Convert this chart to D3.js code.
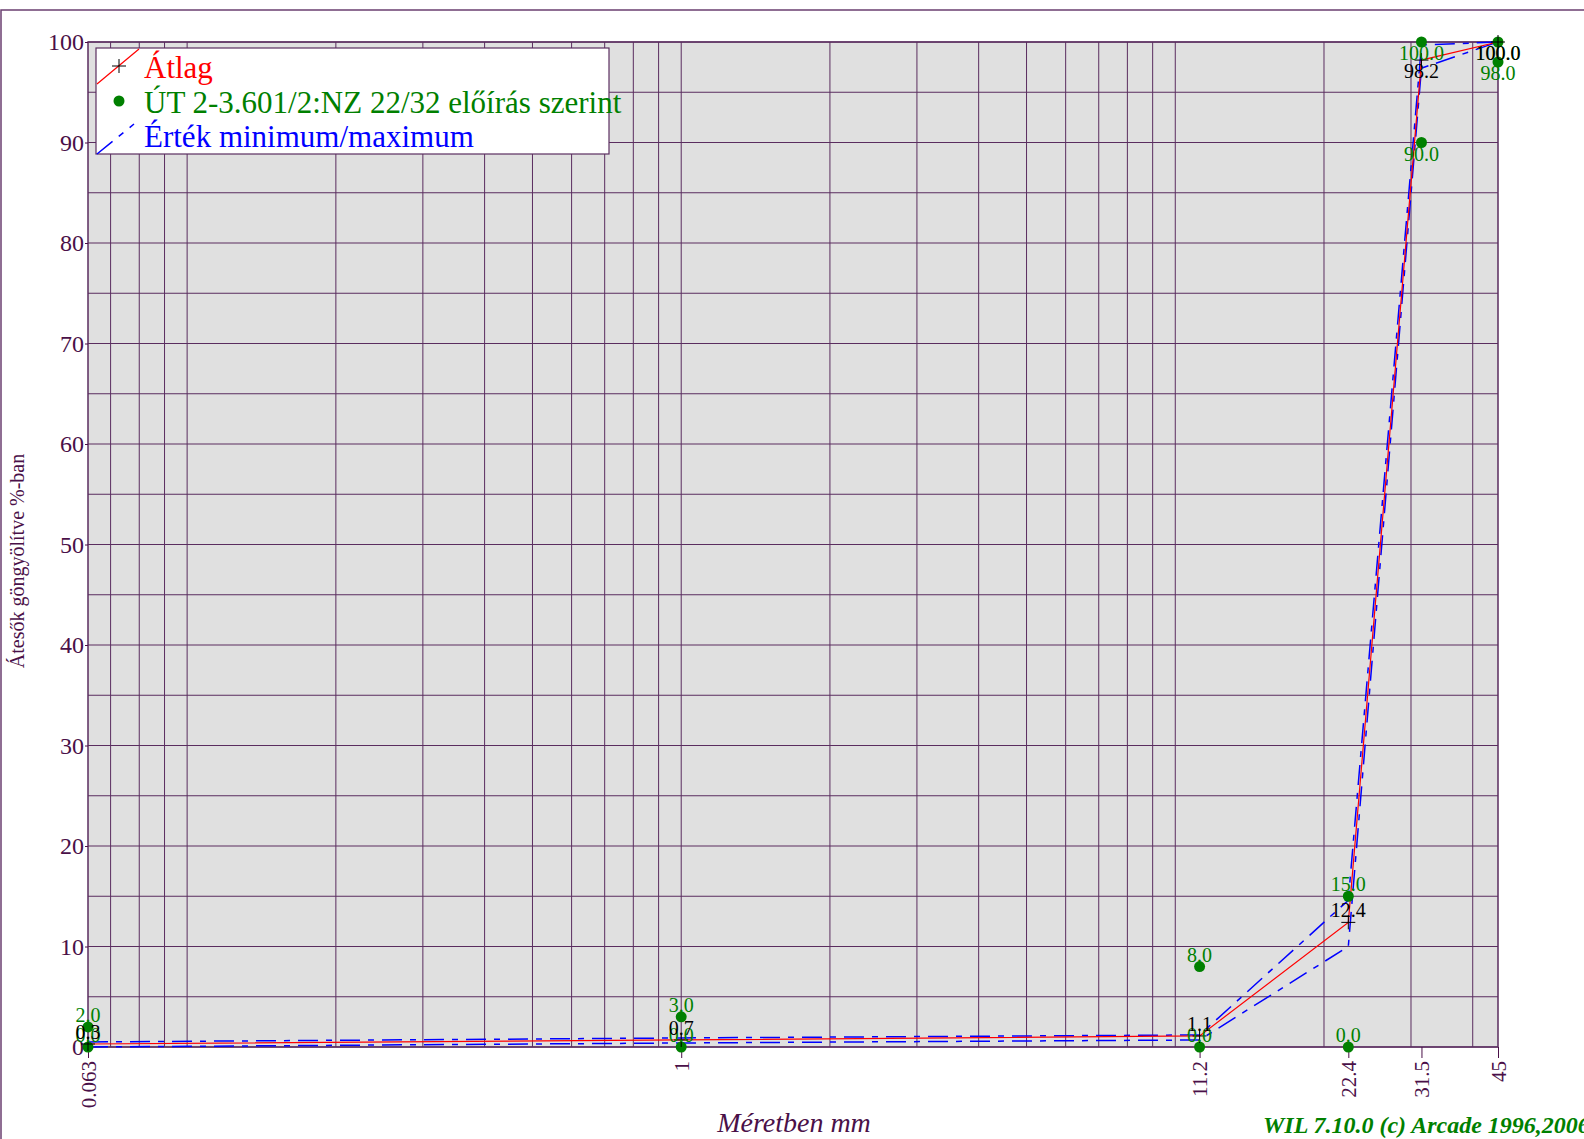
<!DOCTYPE html>
<html>
<head>
<meta charset="utf-8">
<script src="https://cdn.jsdelivr.net/npm/d3@7"></script>
<style>
  body { margin: 0; background: #fff; }
  svg { display: block; font-family: "Liberation Serif", "Times New Roman", serif; }
</style>
</head>
<body>
<div id="chart"></div>
<script>
// sieve sizes (mm) and the values
const sieveSizes = [0.063, 1, 11.2, 22.4, 31.5, 45];
const sieveLabels = ["0.063", "1", "11.2", "22.4", "31.5", "45"];
const averagePassing = [0.3, 0.7, 1.1, 12.4, 98.2, 100.0];
const minPassing = [0.0, 0.4, 0.7, 10.0, 97.4, 100.0];
const maxPassing = [0.5, 0.9, 1.2, 14.6, 99.7, 100.0];
const specLower = [0.0, 0.0, 0.0, 0.0, 90.0, 98.0];
const specUpper = [2.0, 3.0, 8.0, 15.0, 100.0, 100.0];
const yTickValues = [0, 10, 20, 30, 40, 50, 60, 70, 80, 90, 100];
const legendLabels = ["Átlag", "ÚT 2-3.601/2:NZ 22/32 előírás szerint", "Érték minimum/maximum"];

const W = 1584, H = 1139;
const margin = { top: 42, right: 86, bottom: 92, left: 88 };
const gridColor = "#5a2d5f";
const axisColor = "#4a1048";
const green = "#008000";
const fmt = d3.format(".1f");

const svg = d3.select("#chart").append("svg")
    .attr("width", W)
    .attr("height", H);

// outer frame
svg.append("rect")
    .attr("x", 1).attr("y", 10)
    .attr("width", W + 10).attr("height", H + 10)
    .attr("fill", "none")
    .attr("stroke", "#6b3f70")
    .attr("stroke-width", 1.5);

const x = d3.scaleLog()
    .domain([0.063, 45])
    .range([margin.left, W - margin.right]);
const y = d3.scaleLinear()
    .domain([0, 100])
    .range([H - margin.bottom, margin.top]);

// plot background
svg.append("rect")
    .attr("x", x.range()[0]).attr("y", y(100))
    .attr("width", x.range()[1] - x.range()[0])
    .attr("height", y(0) - y(100))
    .attr("fill", "#e0e0e0");

// grid
const grid = svg.append("g").attr("stroke", gridColor).attr("stroke-width", 1);
grid.selectAll(".vg")
    .data(x.ticks())
    .enter().append("line")
    .attr("x1", d => x(d)).attr("x2", d => x(d))
    .attr("y1", y(0)).attr("y2", y(100));
grid.selectAll(".hg")
    .data(y.ticks(20))
    .enter().append("line")
    .attr("x1", x.range()[0]).attr("x2", x.range()[1])
    .attr("y1", d => y(d)).attr("y2", d => y(d));
svg.append("rect")
    .attr("x", x.range()[0]).attr("y", y(100))
    .attr("width", x.range()[1] - x.range()[0])
    .attr("height", y(0) - y(100))
    .attr("fill", "none")
    .attr("stroke", gridColor)
    .attr("stroke-width", 1.5);

// X axis
const xAxis = svg.append("g")
    .attr("transform", "translate(0," + y(0) + ")")
    .call(d3.axisBottom(x)
        .tickValues(sieveSizes)
        .tickFormat((d, i) => sieveLabels[i])
        .tickSize(11)
        .tickPadding(0));
xAxis.select(".domain").remove();
xAxis.selectAll("line").attr("stroke", axisColor);
xAxis.selectAll("text")
    .attr("transform", "rotate(-90)")
    .attr("x", -14).attr("y", 0)
    .attr("dy", "0.35em")
    .attr("text-anchor", "end")
    .attr("fill", axisColor)
    .style("font-size", "21px")
    .style("font-family", "Liberation Serif");

// Y axis
const yAxis = svg.append("g")
    .attr("transform", "translate(" + x.range()[0] + ",0)")
    .call(d3.axisLeft(y).tickValues(yTickValues).tickSize(3).tickPadding(1));
yAxis.select(".domain").remove();
yAxis.selectAll("line").attr("stroke", axisColor);
yAxis.selectAll("text")
    .attr("fill", axisColor)
    .style("font-size", "24px")
    .style("font-family", "Liberation Serif");

// axis titles
svg.append("text")
    .attr("x", 794).attr("y", 1132)
    .attr("text-anchor", "middle")
    .attr("fill", axisColor)
    .style("font-size", "28px")
    .style("font-style", "italic")
    .text("Méretben mm");
svg.append("text")
    .attr("transform", "translate(24,561) rotate(-90)")
    .attr("text-anchor", "middle")
    .attr("fill", axisColor)
    .style("font-size", "20px")
    .text("Átesők göngyölítve %-ban");
svg.append("text")
    .attr("x", 1263).attr("y", 1133)
    .attr("fill", green)
    .style("font-size", "24px")
    .style("font-style", "italic")
    .style("font-weight", "bold")
    .text("WIL 7.10.0 (c) Arcade 1996,2006");

// series
const idx = d3.range(sieveSizes.length);
const line = arr => d3.line()
    .x(i => x(sieveSizes[i]))
    .y(i => y(arr[i]))(idx);

const dash = "20,8,6,8";
svg.append("path").attr("d", line(minPassing))
    .attr("fill", "none").attr("stroke", "#0000ff").attr("stroke-width", 1.5)
    .attr("stroke-dasharray", dash);
svg.append("path").attr("d", line(maxPassing))
    .attr("fill", "none").attr("stroke", "#0000ff").attr("stroke-width", 1.5)
    .attr("stroke-dasharray", dash);
svg.append("path").attr("d", line(averagePassing))
    .attr("fill", "none").attr("stroke", "#ff0000").attr("stroke-width", 1.2);

// spec points
const specPoints = idx.map(i => ({ s: sieveSizes[i], v: specLower[i] }))
    .concat(idx.map(i => ({ s: sieveSizes[i], v: specUpper[i] })));
svg.append("g").selectAll("circle")
    .data(specPoints)
    .enter().append("circle")
    .attr("cx", d => x(d.s)).attr("cy", d => y(d.v))
    .attr("r", 5.5)
    .attr("fill", green);

// average markers
svg.append("g").selectAll("path")
    .data(idx)
    .enter().append("path")
    .attr("d", i => {
        const px = x(sieveSizes[i]), py = y(averagePassing[i]);
        return "M" + (px - 7) + "," + py + "H" + (px + 7) + "M" + px + "," + (py - 7) + "V" + (py + 7);
    })
    .attr("stroke", "#000").attr("stroke-width", 1);

// value labels: above the point, below it near the top
const labelY = v => y(v) + (v >= 90 ? 18 : -5);
svg.append("g").selectAll("text")
    .data(specPoints)
    .enter().append("text")
    .attr("x", d => x(d.s)).attr("y", d => labelY(d.v))
    .attr("text-anchor", "middle")
    .attr("fill", green)
    .style("font-size", "20px")
    .text(d => fmt(d.v));
svg.append("g").selectAll("text")
    .data(idx)
    .enter().append("text")
    .attr("x", i => x(sieveSizes[i])).attr("y", i => labelY(averagePassing[i]))
    .attr("text-anchor", "middle")
    .attr("fill", "#000")
    .style("font-size", "20px")
    .text(i => fmt(averagePassing[i]));

// legend
const lg = svg.append("g");
lg.append("rect")
    .attr("x", 96).attr("y", 48).attr("width", 513).attr("height", 106)
    .attr("fill", "#fff").attr("stroke", gridColor).attr("stroke-width", 1.2);
lg.append("line")
    .attr("x1", 97).attr("y1", 84).attr("x2", 139).attr("y2", 49)
    .attr("stroke", "#ff0000").attr("stroke-width", 1.2);
lg.append("path")
    .attr("d", "M112,66H126M119,59V73")
    .attr("stroke", "#000").attr("stroke-width", 1);
lg.append("circle")
    .attr("cx", 119).attr("cy", 101).attr("r", 5.5).attr("fill", green);
lg.append("line")
    .attr("x1", 97).attr("y1", 154).attr("x2", 134).attr("y2", 124)
    .attr("stroke", "#0000ff").attr("stroke-width", 1.5)
    .attr("stroke-dasharray", dash);
const legendColors = ["#ff0000", green, "#0000ff"];
lg.selectAll(".lt")
    .data(legendLabels)
    .enter().append("text")
    .attr("x", 144)
    .attr("y", (d, i) => 78 + i * 34.5)
    .attr("fill", (d, i) => legendColors[i])
    .style("font-size", "31px")
    .text(d => d);
</script>
</body>
</html>
